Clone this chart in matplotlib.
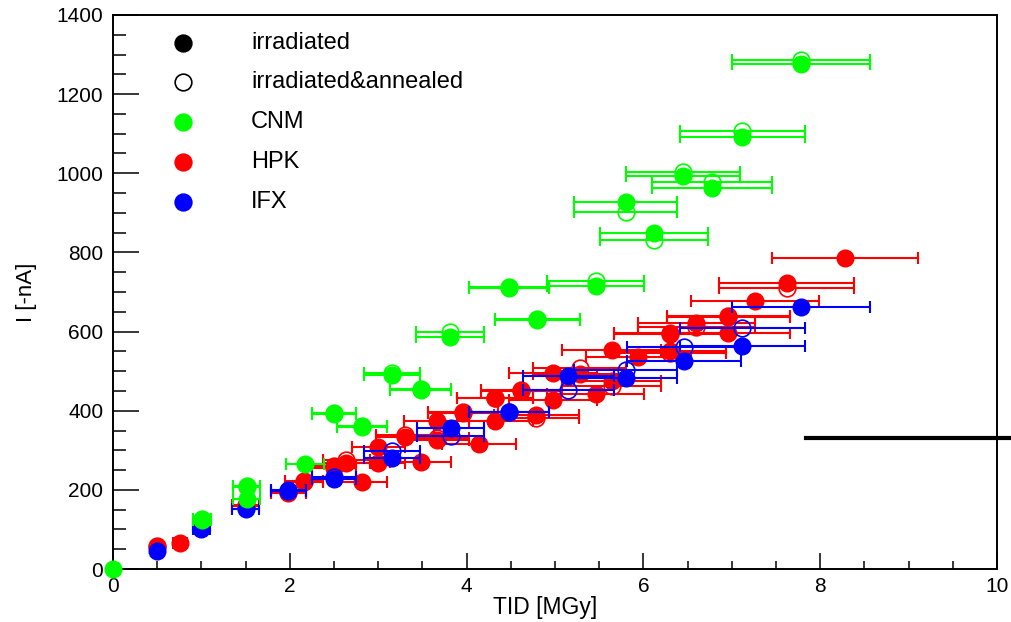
import numpy as np
import matplotlib.pyplot as plt
from matplotlib.ticker import MultipleLocator
from matplotlib.lines import Line2D

plt.rcParams['font.family'] = ['Liberation Sans', 'DejaVu Sans']

# ---- data: TID [MGy] vs leakage current [-nA] ----
# CNM
cnm_irr_tid = [0.0, 1.01, 1.51, 1.51, 2.17, 2.50, 2.82, 3.16, 3.48, 3.81,
               4.48, 4.80, 5.46, 5.80, 6.12, 6.45, 6.78, 7.12, 7.78]
cnm_irr_cur = [0, 124, 208, 176, 265, 391, 359, 489, 452, 587,
               709, 629, 715, 927, 850, 994, 963, 1092, 1276]
cnm_ann_tid = [1.01, 1.51, 2.50, 2.82, 3.16, 3.48, 3.81, 4.48, 4.80, 5.46,
               5.80, 6.12, 6.45, 6.78, 7.12, 7.78]
cnm_ann_cur = [126, 210, 395, 362, 496, 455, 600, 712, 633, 728,
               901, 832, 1002, 978, 1107, 1285]

# HPK
hpk_irr_tid = [0.50, 0.76, 1.00, 1.50, 1.98, 2.16, 2.50, 2.64, 2.82, 3.00,
               3.00, 3.30, 3.48, 3.66, 3.66, 3.96, 4.14, 4.32, 4.32, 4.62,
               4.79, 4.98, 4.98, 5.28, 5.46, 5.64, 5.64, 5.94, 6.30, 6.30,
               6.60, 6.96, 6.96, 7.26, 7.62, 8.28]
hpk_irr_cur = [55, 65, 108, 160, 191, 219, 254, 267, 221, 309,
               267, 334, 270, 373, 326, 394, 317, 431, 373, 451,
               389, 495, 427, 492, 443, 553, 476, 535, 597, 551,
               622, 636, 597, 678, 722, 786]
hpk_ann_tid = [0.50, 1.00, 1.50, 1.98, 2.16, 2.50, 2.64, 3.30, 3.66, 3.96,
               4.32, 4.62, 4.79, 5.28, 5.64, 6.30, 6.30, 6.60, 6.96, 7.62]
hpk_ann_cur = [58, 110, 162, 195, 223, 260, 275, 338, 330, 398,
               433, 453, 381, 507, 463, 595, 545, 612, 640, 709]

# IFX
ifx_irr_tid = [0.50, 1.00, 1.50, 1.98, 2.50, 3.16, 3.82, 4.48, 5.15, 5.80,
               6.46, 7.12, 7.78]
ifx_irr_cur = [46, 102, 152, 200, 228, 280, 356, 398, 488, 482,
               526, 564, 661]
ifx_ann_tid = [1.98, 2.50, 3.16, 3.82, 4.48, 5.15, 5.80, 6.46, 7.12]
ifx_ann_cur = [197, 232, 298, 336, 396, 452, 503, 560, 610]

tid_rel_err = 0.10  # dose uncertainty, 10 %

fig, ax = plt.subplots(figsize=(10.11, 6.22), dpi=100)
fig.subplots_adjust(left=0.1118, right=0.9862, bottom=0.0852, top=0.9759)


def draw(tid, cur, color, filled, z):
    tid = np.asarray(tid, dtype=float)
    cur = np.asarray(cur, dtype=float)
    ax.errorbar(tid, cur, xerr=tid_rel_err * tid, fmt='none', ecolor=color,
                elinewidth=1.5, capsize=4, capthick=1.5, zorder=z)
    if filled:
        ax.plot(tid, cur, 'o', ms=12, mfc=color, mec=color, zorder=z + 0.5,
                clip_on=False)
    else:
        ax.plot(tid, cur, 'o', ms=12, mfc='none', mec=color, mew=1.2,
                zorder=z + 0.5, clip_on=False)


# red below, then blue, then green on top
draw(hpk_ann_tid, hpk_ann_cur, '#ff0000', False, 2)
draw(hpk_irr_tid, hpk_irr_cur, '#ff0000', True, 3)
draw(ifx_ann_tid, ifx_ann_cur, '#0000ff', False, 4)
draw(ifx_irr_tid, ifx_irr_cur, '#0000ff', True, 5)
draw(cnm_ann_tid, cnm_ann_cur, '#00ff00', False, 6)
draw(cnm_irr_tid, cnm_irr_cur, '#00ff00', True, 7)

# stray black line on the right
ax.plot([7.84, 10.5], [331, 331], color='k', lw=3, clip_on=False, zorder=8)

ax.set_xlim(0, 10)
ax.set_ylim(0, 1400)
ax.xaxis.set_major_locator(MultipleLocator(2))
ax.xaxis.set_minor_locator(MultipleLocator(0.5))
ax.yaxis.set_major_locator(MultipleLocator(200))
ax.yaxis.set_minor_locator(MultipleLocator(50))
ax.tick_params(axis='x', which='major', direction='in', length=11.5, width=1.1,
               labelsize=15, pad=6, top=False)
ax.tick_params(axis='x', which='minor', direction='in', length=5.8, width=1.1,
               top=False)
ax.tick_params(axis='y', which='major', direction='in', length=18.7, width=1.1,
               labelsize=15, pad=7, right=False)
ax.tick_params(axis='y', which='minor', direction='in', length=9.4, width=1.1,
               right=False)
for sp in ax.spines.values():
    sp.set_linewidth(1.4)

ax.set_xlabel('TID [MGy]', fontsize=16.5)
ax.set_ylabel('I [-nA]', fontsize=16)
ax.xaxis.set_label_coords(0.489, -0.048)
ax.yaxis.set_label_coords(-0.086, 0.5)

# legend drawn by hand, ROOT style
leg_rows = [('irradiated', 'k', True), ('irradiated&annealed', 'k', False),
            ('CNM', '#00ff00', True), ('HPK', '#ff0000', True),
            ('IFX', '#0000ff', True)]
leg_y = [0.9495, 0.879, 0.807, 0.7347, 0.6625]
for (name, col, filled), yy in zip(leg_rows, leg_y):
    ax.add_line(Line2D([0.0792], [yy], marker='o', ms=12, ls='none',
                       mfc=col if filled else 'none', mec=col, mew=1.2,
                       transform=ax.transAxes, zorder=9))
    ax.text(0.156, yy, name, transform=ax.transAxes, fontsize=17,
            va='center', ha='left')

fig.savefig('out.png', dpi=100)
